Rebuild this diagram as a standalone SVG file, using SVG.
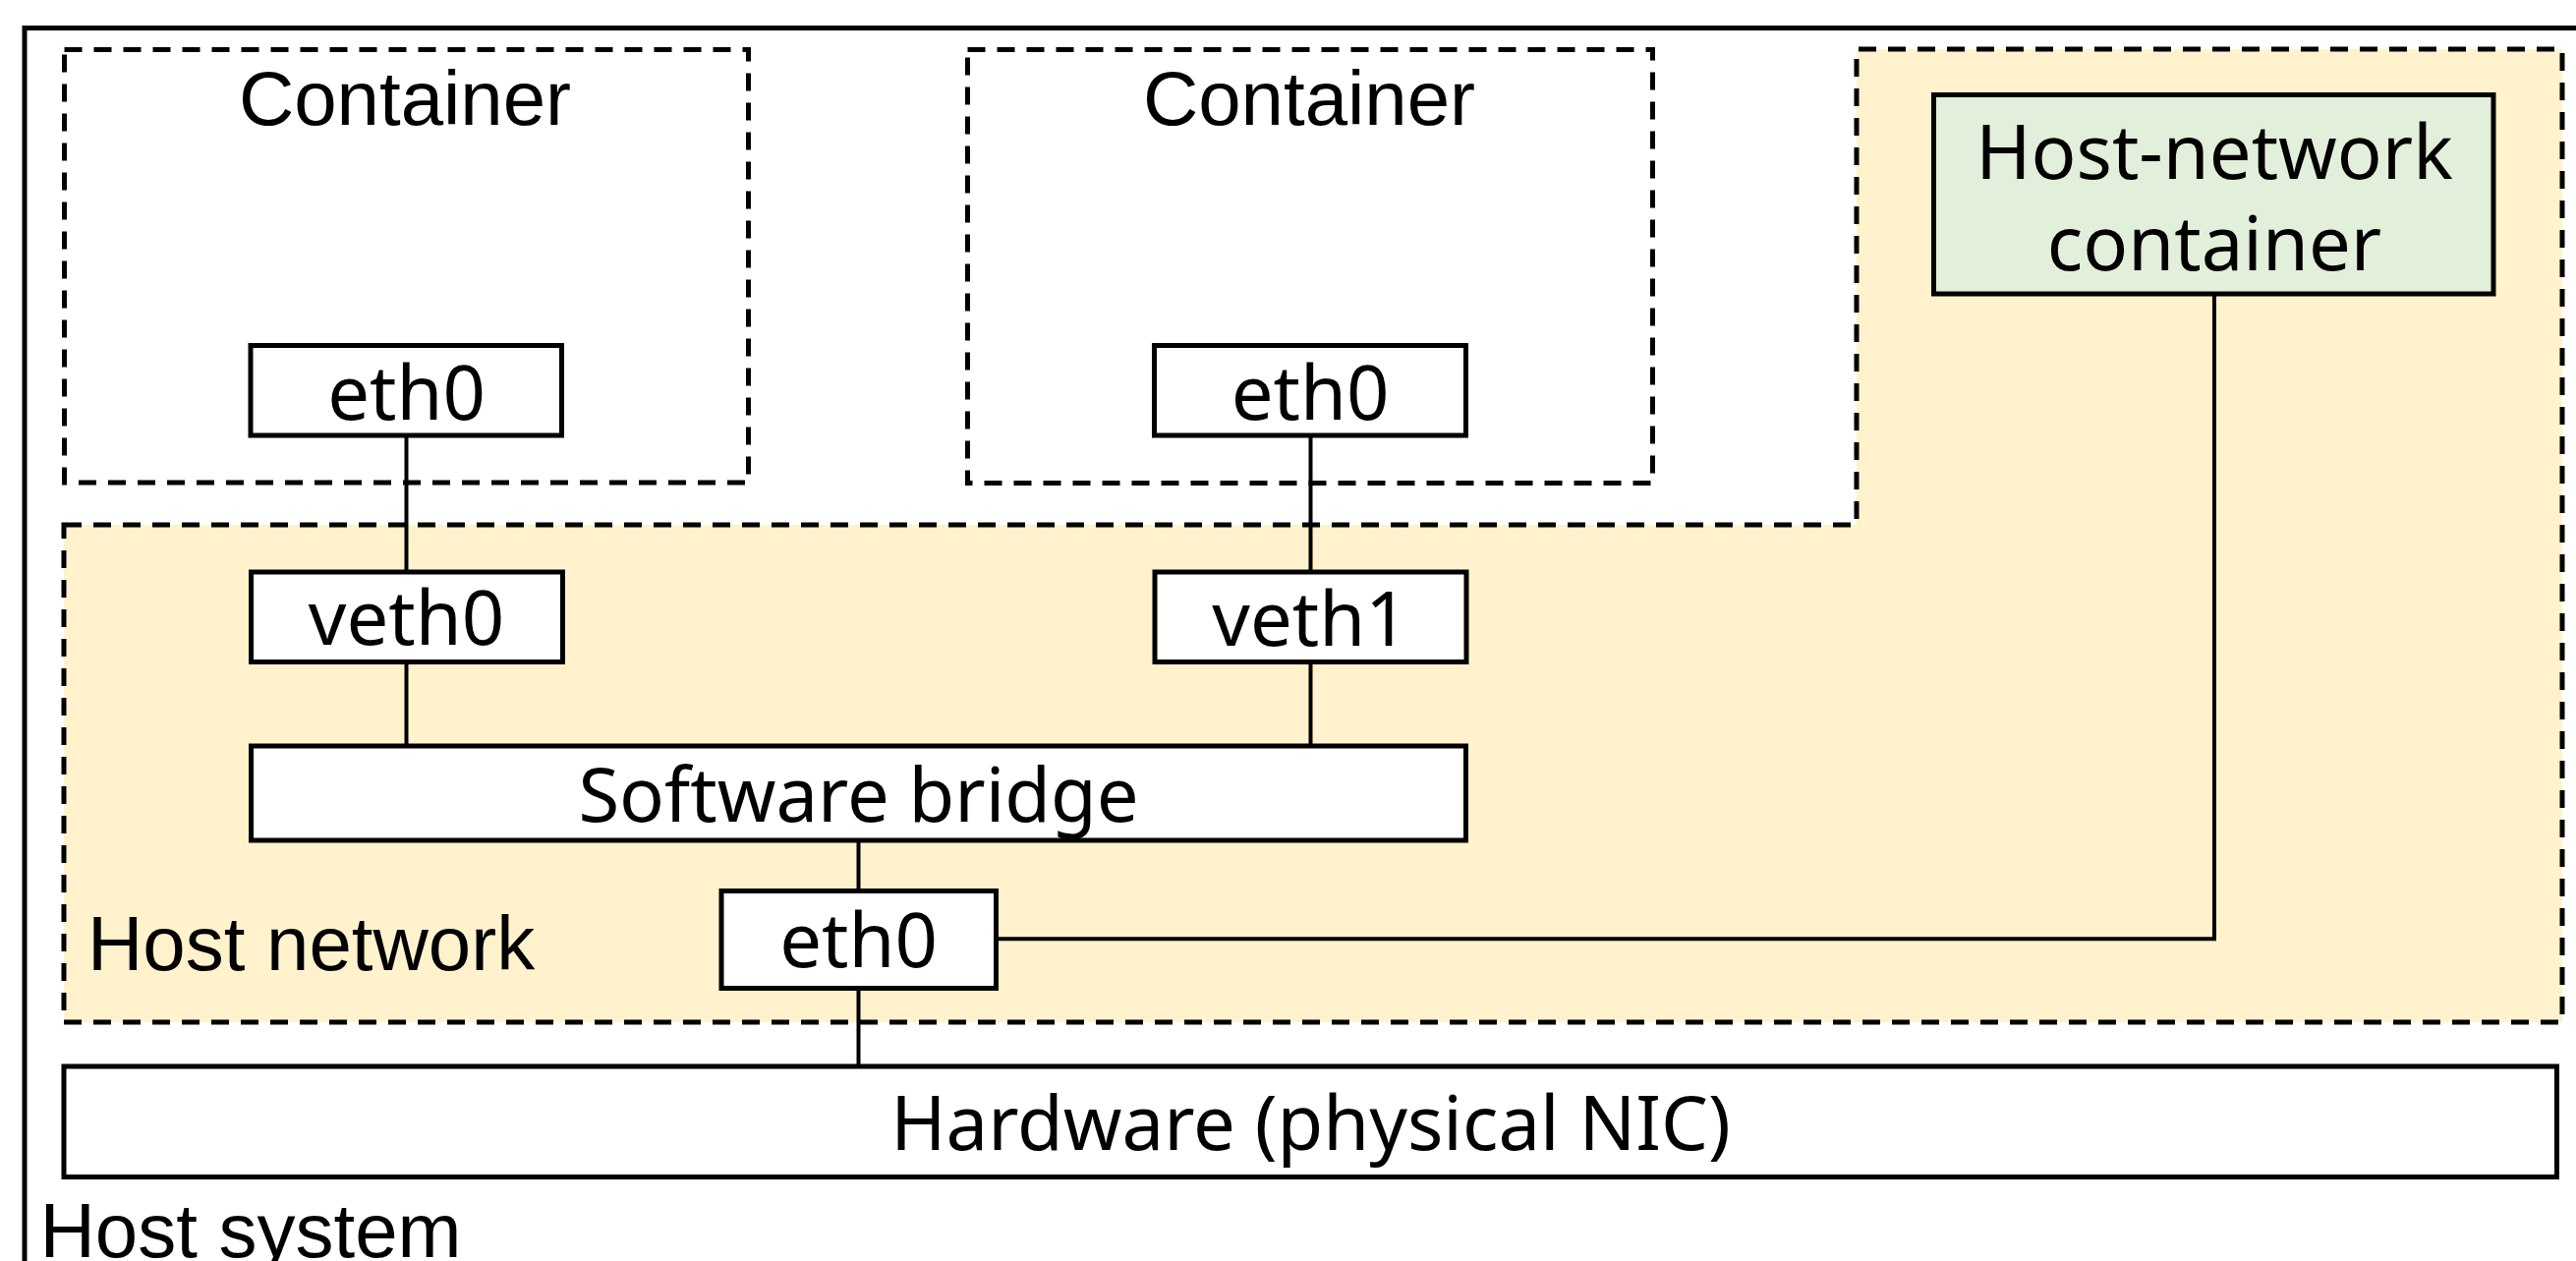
<svg xmlns="http://www.w3.org/2000/svg" width="2621" height="1283" viewBox="0 0 2621 1283">
<defs>
<style>
.bg{fill:#ffffff}
.outer{fill:none;stroke:#000;stroke-width:5}
.dash{fill:none;stroke:#000;stroke-width:5;stroke-dasharray:18 12}
.zone{fill:#FFF2CC;stroke:#000;stroke-width:5;stroke-dasharray:18 12}
.box{fill:#ffffff;stroke:#000;stroke-width:5}
.green{fill:#E2EFDA;stroke:#000;stroke-width:5}
.conn{fill:none;stroke:#000;stroke-width:4}
.lbl{font-family:"Liberation Sans",Arial,sans-serif;font-size:78px;fill:#000}
.nt{font-family:"Noto Sans","Open Sans",sans-serif;font-size:76px;fill:#000;text-anchor:middle}
</style>
</defs>
<rect class="bg" x="0" y="0" width="2621" height="1283"/>

<g id="host-system">
<rect class="outer" x="25" y="28.5" width="2700" height="1400"/>
<text class="lbl" x="40.5" y="1279">Host system</text>
</g>

<g id="host-network">
<path class="zone" d="M65 534 H1889 V50 H2607 V1040 H65 Z"/>
<text class="lbl" x="89" y="986.5">Host network</text>
</g>

<g id="container-1">
<rect class="dash" x="65.5" y="50.5" width="696" height="440.5"/>
<text class="lbl" x="412" y="126.7" text-anchor="middle">Container</text>
</g>

<g id="container-2">
<rect class="dash" x="984.5" y="50.5" width="697" height="441"/>
<text class="lbl" x="1332" y="126.7" text-anchor="middle">Container</text>
</g>

<g id="connectors">
<line class="conn" x1="413.5" y1="443" x2="413.5" y2="582"/>
<line class="conn" x1="413.5" y1="673.5" x2="413.5" y2="759"/>
<line class="conn" x1="1333.5" y1="443" x2="1333.5" y2="582"/>
<line class="conn" x1="1333.5" y1="673.5" x2="1333.5" y2="759"/>
<line class="conn" x1="873.5" y1="855" x2="873.5" y2="906.5"/>
<line class="conn" x1="873.5" y1="1005.5" x2="873.5" y2="1085"/>
<polyline class="conn" points="1013.5,955.3 2253,955.3 2253,299"/>
</g>

<g id="eth0-c1">
<rect class="box" x="255" y="351.5" width="316.5" height="91.5"/>
<text class="nt" x="413.5" y="426.7">eth0</text>
</g>

<g id="eth0-c2">
<rect class="box" x="1174.5" y="351.5" width="317" height="91.5"/>
<text class="nt" x="1333" y="426.8">eth0</text>
</g>

<g id="veth0">
<rect class="box" x="255.5" y="582" width="317" height="91.5"/>
<text class="nt" x="413.5" y="656">veth0</text>
</g>

<g id="veth1">
<rect class="box" x="1175" y="582" width="317" height="91.5"/>
<text class="nt" x="1333" y="656.7">veth1</text>
</g>

<g id="software-bridge">
<rect class="box" x="255.5" y="759" width="1236" height="96"/>
<text class="nt" x="873.5" y="835.7">Software bridge</text>
</g>

<g id="eth0-host">
<rect class="box" x="734" y="906.5" width="279.5" height="99"/>
<text class="nt" x="873.5" y="984.4">eth0</text>
</g>

<g id="hardware">
<rect class="box" x="65" y="1085" width="2536.5" height="112.5"/>
<text class="nt" x="1333.5" y="1170">Hardware (physical NIC)</text>
</g>

<g id="host-network-container">
<rect class="green" x="1967.5" y="96.5" width="569.5" height="202.5"/>
<text class="nt" x="2253" y="182">Host-network</text>
<text class="nt" x="2253" y="275">container</text>
</g>
</svg>
